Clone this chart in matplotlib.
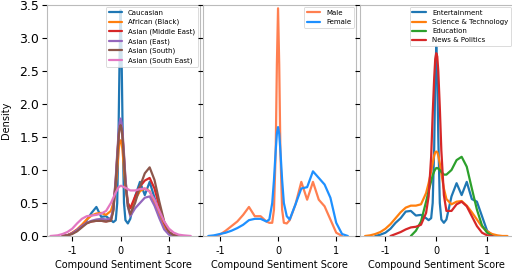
import numpy as np
import matplotlib
matplotlib.use("Agg")
import matplotlib.pyplot as plt

nan = np.nan

# ---------------- Panel 1: ethnicity ----------------
x1 = [-1.45, -1.3, -1.2, -1.1, -1.0, -0.9, -0.8, -0.7, -0.6, -0.5, -0.4, -0.3, -0.2, -0.15,
      -0.1, -0.07, -0.04, -0.02, 0.0, 0.02, 0.04, 0.07, 0.1, 0.15, 0.2, 0.3, 0.4, 0.5, 0.6,
      0.7, 0.8, 0.9, 1.0, 1.1, 1.2, 1.3, 1.45]
caucasian = [nan, nan, 0.0, 0.01, 0.04, 0.08, 0.15, 0.24, 0.35, 0.44, 0.29, 0.30, 0.24, 0.21,
             0.24, 0.5, 1.7, 2.75, 3.42, 2.75, 1.7, 0.5, 0.24, 0.19, 0.26, 0.6, 0.82, 0.62, 0.82,
             0.58, 0.35, 0.13, 0.03, 0.005, 0.0, nan, nan]
african = [nan, nan, 0.0, 0.01, 0.05, 0.1, 0.17, 0.25, 0.31, 0.34, 0.35, 0.32, 0.38, 0.5,
           0.75, 1.0, 1.3, 1.42, 1.45, 1.42, 1.3, 1.0, 0.75, 0.5, 0.42, 0.55, 0.68, 0.72, 0.68,
           0.5, 0.3, 0.14, 0.05, 0.01, 0.0, nan, nan]
asian_me = [nan, nan, 0.0, 0.01, 0.04, 0.09, 0.15, 0.2, 0.22, 0.23, 0.23, 0.22, 0.24, 0.4,
            0.85, 1.2, 1.52, 1.66, 1.72, 1.66, 1.52, 1.2, 0.85, 0.5, 0.42, 0.6, 0.75, 0.84, 0.88,
            0.72, 0.45, 0.2, 0.06, 0.01, 0.0, nan, nan]
asian_east = [nan, nan, 0.0, 0.01, 0.04, 0.09, 0.15, 0.2, 0.23, 0.25, 0.26, 0.25, 0.27, 0.42,
              0.88, 1.25, 1.58, 1.72, 1.78, 1.72, 1.58, 1.25, 0.88, 0.45, 0.3, 0.42, 0.5, 0.58,
              0.6, 0.46, 0.27, 0.1, 0.02, 0.0, nan, nan, nan]
asian_south = [nan, nan, 0.0, 0.01, 0.03, 0.07, 0.13, 0.19, 0.22, 0.23, 0.23, 0.22, 0.23, 0.38,
               0.82, 1.17, 1.5, 1.63, 1.68, 1.63, 1.5, 1.17, 0.8, 0.45, 0.33, 0.5, 0.75, 0.95,
               1.04, 0.85, 0.52, 0.22, 0.06, 0.01, 0.0, nan, nan]
asian_se = [0.0, 0.01, 0.03, 0.06, 0.11, 0.19, 0.26, 0.3, 0.31, 0.32, 0.34, 0.38, 0.5, 0.58,
            0.66, 0.7, 0.74, 0.75, 0.76, 0.76, 0.75, 0.74, 0.73, 0.71, 0.69, 0.69, 0.71, 0.72,
            0.67, 0.55, 0.38, 0.22, 0.11, 0.05, 0.02, 0.01, 0.0]
labels1 = ["Caucasian", "African (Black)", "Asian (Middle East)", "Asian (East)",
           "Asian (South)", "Asian (South East)"]
series1 = [caucasian, african, asian_me, asian_east, asian_south, asian_se]
colors1 = ["#1f77b4", "#ff7f0e", "#d62728", "#9467bd", "#8c564b", "#e377c2"]

# ---------------- Panel 2: gender ----------------
x2 = [-1.2, -1.1, -1.0, -0.9, -0.8, -0.7, -0.6, -0.5, -0.4, -0.3, -0.2, -0.15, -0.1, -0.07,
      -0.04, -0.02, 0.0, 0.02, 0.04, 0.07, 0.1, 0.15, 0.2, 0.3, 0.4, 0.5, 0.6, 0.7, 0.8, 0.9,
      1.0, 1.1, 1.2]
male = [nan, 0.0, 0.02, 0.08, 0.15, 0.22, 0.32, 0.44, 0.3, 0.3, 0.22, 0.2, 0.2, 0.4, 1.3,
        2.6, 3.45, 2.6, 1.3, 0.4, 0.2, 0.19, 0.24, 0.48, 0.82, 0.55, 0.82, 0.55, 0.45, 0.25,
        0.05, 0.0, nan]
female = [0.0, 0.01, 0.03, 0.05, 0.08, 0.12, 0.17, 0.24, 0.26, 0.26, 0.22, 0.25, 0.5, 0.85,
          1.3, 1.55, 1.65, 1.55, 1.3, 0.85, 0.5, 0.3, 0.25, 0.48, 0.72, 0.74, 0.98, 0.88, 0.78,
          0.58, 0.2, 0.03, 0.0]
labels2 = ["Male", "Female"]
series2 = [male, female]
colors2 = ["#ff7f50", "#1e90ff"]

# ---------------- Panel 3: category ----------------
x3 = [-1.4, -1.3, -1.2, -1.1, -1.0, -0.9, -0.8, -0.7, -0.6, -0.5, -0.4, -0.3, -0.2, -0.15,
      -0.1, -0.07, -0.04, -0.02, 0.0, 0.02, 0.04, 0.07, 0.1, 0.15, 0.2, 0.3, 0.4, 0.5, 0.6,
      0.7, 0.8, 0.9, 1.0, 1.1, 1.2, 1.3, 1.4]
entertainment = [nan, nan, 0.0, 0.02, 0.05, 0.11, 0.2, 0.27, 0.37, 0.38, 0.31, 0.32, 0.27,
                 0.24, 0.27, 0.5, 1.35, 2.35, 2.87, 2.45, 1.5, 0.5, 0.25, 0.2, 0.25, 0.6, 0.8,
                 0.62, 0.82, 0.56, 0.52, 0.3, 0.08, 0.01, 0.0, nan, nan]
science = [0.0, 0.01, 0.03, 0.06, 0.11, 0.18, 0.27, 0.36, 0.43, 0.46, 0.46, 0.48, 0.65, 0.8,
           0.98, 1.1, 1.22, 1.27, 1.28, 1.27, 1.22, 1.1, 0.95, 0.72, 0.56, 0.48, 0.52, 0.53,
           0.46, 0.36, 0.25, 0.14, 0.07, 0.03, 0.01, 0.0, 0.0]
education = [nan, nan, nan, nan, nan, nan, nan, nan, nan, 0.0, 0.08, 0.22, 0.52, 0.68, 0.83,
             0.92, 0.98, 1.01, 1.03, 1.03, 1.02, 1.0, 0.97, 0.93, 0.93, 1.0, 1.15, 1.2, 1.05,
             0.72, 0.4, 0.16, 0.05, 0.0, nan, nan, nan]
news = [nan, nan, nan, nan, nan, 0.0, 0.03, 0.06, 0.1, 0.13, 0.14, 0.17, 0.35, 0.6, 1.2,
        1.85, 2.4, 2.68, 2.77, 2.72, 2.5, 1.95, 1.3, 0.62, 0.38, 0.38, 0.48, 0.52, 0.45, 0.3,
        0.15, 0.05, 0.01, 0.0, nan, nan, nan]
labels3 = ["Entertainment", "Science & Technology", "Education", "News & Politics"]
series3 = [entertainment, science, education, news]
colors3 = ["#1f77b4", "#ff7f0e", "#2ca02c", "#d62728"]

yticks = [0.0, 0.5, 1.0, 1.5, 2.0, 2.5, 3.0, 3.5]
xticks = [-1, 0, 1]
xlims = [(-1.52, 1.64), (-1.29, 1.34), (-1.5, 1.51)]

fig = plt.figure(figsize=(5.12, 2.71), dpi=100)
W, H = 512.0, 271.0
bottom = 1 - 236 / H
height = (236 - 5) / H
lefts = [47, 203, 360]
width = 153
axes = []
for i, L in enumerate(lefts):
    ax = fig.add_axes([L / W, bottom, width / W, height])
    axes.append(ax)

panels = [(x1, series1, labels1, colors1),
          (x2, series2, labels2, colors2),
          (x3, series3, labels3, colors3)]

for i, (ax, (xs, ser, labs, cols)) in enumerate(zip(axes, panels)):
    for ys, lab, c in zip(ser, labs, cols):
        ax.plot(xs, ys, color=c, lw=1.6, label=lab, solid_capstyle="round")
    ax.set_xlim(*xlims[i])
    ax.set_ylim(0, 3.5)
    ax.set_yticks(yticks)
    ax.set_xticks(xticks)
    ax.set_xticklabels(["-1", "0", "1"])
    for s in ax.spines.values():
        s.set_color("#bbbbbb")
        s.set_linewidth(0.8)
    ax.tick_params(axis="both", direction="out", length=3.5, width=0.8, color="black")
    ax.tick_params(axis="x", labelsize=7, pad=3.5)
    ax.tick_params(axis="y", labelsize=9, pad=2)
    ax.set_xlabel("Compound Sentiment Score", fontsize=7, labelpad=3)
    if i == 0:
        ax.set_ylabel("Density", fontsize=7, labelpad=6)
    else:
        ax.tick_params(axis="y", labelleft=False)
    leg = ax.legend(loc="upper right", fontsize=5, frameon=True, borderaxespad=0.3,
                    handlelength=2.0, labelspacing=0.45)
    leg.get_frame().set_linewidth(0.6)

fig.savefig("out.png", dpi=100)
